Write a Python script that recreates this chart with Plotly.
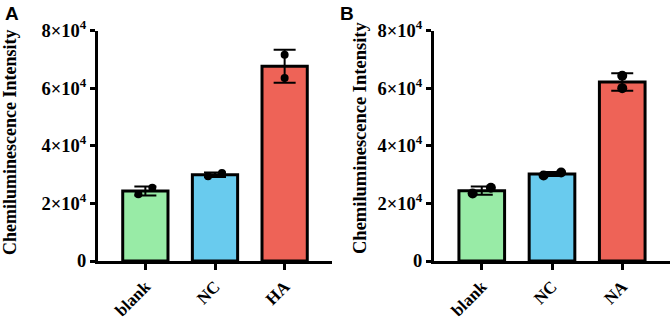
import numpy as np
import plotly.graph_objects as go

# ---- data ----
categories_A = ["blank", "NC", "HA"]
categories_B = ["blank", "NC", "NA"]
replicates_A = [[23200, 25400], [29400, 30500], [71600, 63500]]
replicates_B = [[23400, 25400], [29700, 30700], [64300, 60000]]
y_tick_vals = [0, 20000, 40000, 60000, 80000]
y_tick_text = ["0", "2×10<sup>4</sup>", "4×10<sup>4</sup>", "6×10<sup>4</sup>", "8×10<sup>4</sup>"]
y_title = "Chemiluminescence Intensity"
panel_labels = ["A", "B"]

# ---- style ----
bar_colors = ["#98EBA6", "#69CBEE", "#EE6357"]
jitter_A = [[-0.1, 0.1], [-0.1, 0.1], [0.0, 0.0]]
jitter_B = [[-0.13, 0.13], [-0.12, 0.13], [0.0, 0.0]]
W, H = 671, 319
serif = "Liberation Serif"

fig = go.Figure()


def add_panel(cats, reps, jit, xa, ya, msize):
    xs = list(range(len(cats)))
    means = [float(np.mean(r)) for r in reps]
    sds = [float(np.std(r, ddof=1)) for r in reps]
    fig.add_trace(go.Bar(
        x=xs, y=means, width=0.65, xaxis=xa, yaxis=ya,
        marker=dict(color=bar_colors, line=dict(color="black", width=3)),
        error_y=dict(type="data", array=sds, visible=True, color="black",
                     thickness=2, width=11),
        showlegend=False, hoverinfo="skip"))
    px, py = [], []
    for i, r in enumerate(reps):
        for j, v in enumerate(r):
            px.append(xs[i] + jit[i][j])
            py.append(v)
    fig.add_trace(go.Scatter(
        x=px, y=py, mode="markers", xaxis=xa, yaxis=ya,
        marker=dict(color="black", size=msize),
        showlegend=False, hoverinfo="skip"))


add_panel(categories_A, replicates_A, jitter_A, "x", "y", 8)
add_panel(categories_B, replicates_B, jitter_B, "x2", "y2", 10)

ydom = [(H - 261) / H, (H - 30.5) / H]
xdomA = [98 / W, 332 / W]
xdomB = [434 / W, 670 / W]


def xaxis_cfg(dom, cats, anchor):
    return dict(domain=dom, range=[-0.68, 2.68], anchor=anchor,
                automargin=False,
                tickvals=list(range(len(cats))),
                ticktext=["<b>%s</b>" % c for c in cats],
                tickangle=-45, ticks="outside", ticklen=6, tickwidth=3,
                tickcolor="black", showline=True, linewidth=3, linecolor="black",
                showgrid=False, zeroline=False,
                tickfont=dict(family=serif, size=17, color="black"))


def yaxis_cfg(anchor):
    return dict(domain=ydom, range=[0, 80000], anchor=anchor,
                automargin=False,
                tickvals=y_tick_vals,
                ticktext=["<b>%s</b>" % t for t in y_tick_text],
                ticks="outside", ticklen=5, tickwidth=3, tickcolor="black",
                showline=True, linewidth=3, linecolor="black",
                showgrid=False, zeroline=False,
                tickfont=dict(family=serif, size=18.5, color="black"))


fig.update_layout(
    width=W, height=H,
    margin=dict(l=0, r=0, t=0, b=0, autoexpand=False),
    paper_bgcolor="white", plot_bgcolor="white",
    xaxis=xaxis_cfg(xdomA, categories_A, "y"),
    yaxis=yaxis_cfg("x"),
    xaxis2=xaxis_cfg(xdomB, categories_B, "y2"),
    yaxis2=yaxis_cfg("x2"),
    annotations=[
        dict(text="<b>%s</b>" % y_title, x=10 / W, y=(H - 143) / H,
             xref="paper", yref="paper", textangle=-90, showarrow=False,
             font=dict(family=serif, size=18, color="black"),
             xanchor="center", yanchor="middle"),
        dict(text="<b>%s</b>" % y_title, x=360 / W, y=(H - 138) / H,
             xref="paper", yref="paper", textangle=-90, showarrow=False,
             font=dict(family=serif, size=18.5, color="black"),
             xanchor="center", yanchor="middle"),
        dict(text="<b>%s</b>" % panel_labels[0], x=3 / W, y=1 - 1 / H,
             xref="paper", yref="paper", showarrow=False,
             font=dict(family="Liberation Sans", size=19, color="black"),
             xanchor="left", yanchor="top"),
        dict(text="<b>%s</b>" % panel_labels[1], x=338 / W, y=1 - 1 / H,
             xref="paper", yref="paper", showarrow=False,
             font=dict(family="Liberation Sans", size=19, color="black"),
             xanchor="left", yanchor="top"),
    ],
)

fig.write_html(
    "out.html",
    config={"displayModeBar": False},
    post_script="document.body.style.margin='0';document.body.style.overflow='hidden';",
)
